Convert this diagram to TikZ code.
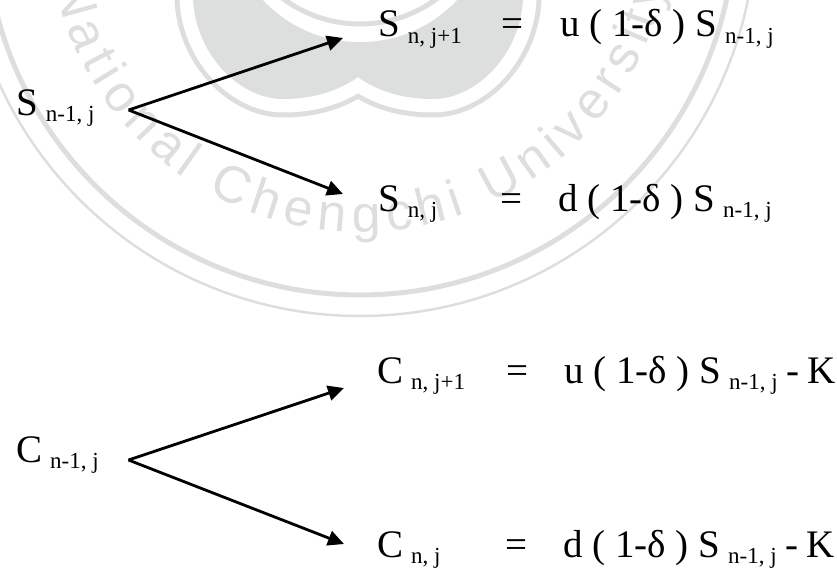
\documentclass[tikz,border=0pt]{standalone}
\usepackage{fontspec}
\setmainfont{Liberation Serif}
\newfontfamily\wmfont{Liberation Sans}
\usetikzlibrary{arrows.meta, decorations.text}
\definecolor{wmgray}{HTML}{DDDEDE}
\newcommand{\subterm}[2]{#1\hspace{8pt}\raisebox{-6.5pt}{\fontsize{23}{25}\selectfont #2}}
\tikzset{
  term/.style={anchor=base west, inner sep=0pt, font=\fontsize{39}{42}\selectfont},
  branch/.style={-{Triangle[length=16pt,width=15pt]}, line width=2.8pt},
}

\begin{document}
\begin{tikzpicture}[x=1pt, y=-1pt]
  \useasboundingbox (0,0) rectangle (837,567);
  % watermark
  \begin{scope}
    \clip (0,0) rectangle (837,567);
    \coordinate (mid) at (360,-80);
    \draw[wmgray, line width=5pt] (mid) circle[radius=375pt];
    \draw[wmgray, line width=2.5pt] (mid) circle[radius=396pt];
    \def\blobpath{(193,0) .. controls (196,55) and (240,99) .. (283,99)
      .. controls (315,99) and (340,90) .. (358,77)
      .. controls (376,90) and (400,99) .. (433,99)
      .. controls (476,99) and (520,55) .. (523,0) -- (523,-40) -- (193,-40) -- cycle}
    \draw[wmgray, line width=37pt, line join=round] \blobpath;
    \draw[white, line width=27pt, line join=round] \blobpath;
    \fill[wmgray] \blobpath;
    \fill[white] (360,-91) circle[radius=133pt];
    \draw[wmgray, line width=5pt] (360,-105) circle[radius=129pt];
    \path[decorate, decoration={text along path, text align={fit to path},
        text={|\wmfont\fontsize{52}{54}\selectfont\color{wmgray}|National Chengchi University}}]
      (mid) ++(192:312pt) arc[start angle=192, end angle=348, radius=312pt];
  \end{scope}

  % stock tree
  \node[term] (Sup) at (378,36.7) {\subterm{S}{n, j+1}};
  \node[term] (Seq1) at (501,36.7) {=};
  \node[term] (Sval1) at (560,36.7) {u ( 1-δ ) \subterm{S}{n-1, j}};
  \node[term] (Sprev) at (16,115) {\subterm{S}{n-1, j}};
  \node[term] (Sdown) at (378,211) {\subterm{S}{n, j}};
  \node[term] (Seq2) at (500,211) {=};
  \node[term] (Sval2) at (558,211) {d ( 1-δ ) \subterm{S}{n-1, j}};
  \draw[branch] ([xshift=34pt,yshift=5pt]Sprev.base east) -- ([xshift=-35pt,yshift=-1.3pt]Sup.base west);
  \draw[branch] ([xshift=34pt,yshift=5pt]Sprev.base east) -- ([xshift=-35pt,yshift=17pt]Sdown.base west);

  % call tree
  \node[term] (Cup) at (377,383) {\subterm{C}{n, j+1}};
  \node[term] (Ceq1) at (506,383) {=};
  \node[term] (Cval1) at (564,383) {u ( 1-δ ) \subterm{S}{n-1, j}\hspace{8.5pt}-\hspace{8pt}K};
  \node[term] (Cprev) at (16,462) {\subterm{C}{n-1, j}};
  \node[term] (Cdown) at (377,557) {\subterm{C}{n, j}};
  \node[term] (Ceq2) at (505,557) {=};
  \node[term] (Cval2) at (563,557) {d ( 1-δ ) \subterm{S}{n-1, j}\hspace{8.5pt}-\hspace{8pt}K};
  \draw[branch] ([xshift=29.5pt,yshift=2pt]Cprev.base east) -- ([xshift=-33pt,yshift=-5pt]Cup.base west);
  \draw[branch] ([xshift=29.5pt,yshift=2pt]Cprev.base east) -- ([xshift=-33pt,yshift=13pt]Cdown.base west);
\end{tikzpicture}
\end{document}
